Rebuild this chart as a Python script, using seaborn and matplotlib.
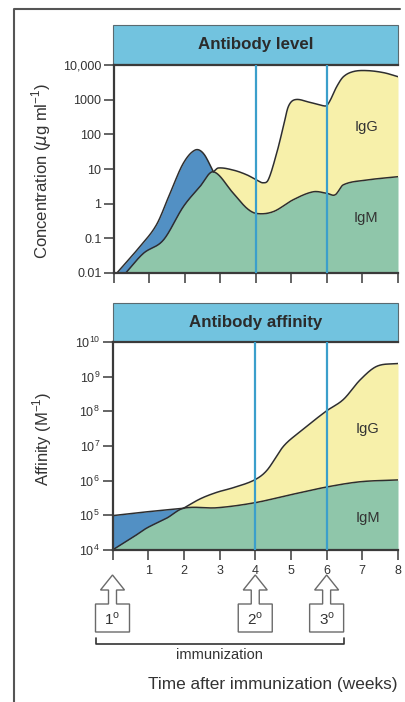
import numpy as np
import matplotlib
matplotlib.use("Agg")
import matplotlib.pyplot as plt
import seaborn as sns
from matplotlib.patches import Rectangle, Polygon
from matplotlib.lines import Line2D
from matplotlib.transforms import blended_transform_factory

# ---- Antibody level (concentration, ug/ml) ----
level_igm_weeks = [0.33, 0.83, 1.39, 1.95, 2.42, 2.80, 3.36, 3.74, 4.02, 4.49,
                   5.05, 5.61, 5.99, 6.23, 6.46, 7.12, 8.00]
level_igm = [0.01, 0.037, 0.089, 0.81, 3.1, 8.3, 2.0, 0.74, 0.52, 0.59,
             1.3, 2.2, 2.0, 1.8, 3.5, 4.8, 6.0]
level_early_weeks = [0.08, 0.73, 1.20, 1.58, 1.95, 2.28, 2.52, 2.80]
level_early = [0.01, 0.058, 0.25, 2.0, 14.5, 35.0, 28.0, 8.3]
level_igg_weeks = [2.80, 2.94, 3.36, 3.74, 4.02, 4.20, 4.35, 4.58, 4.77, 4.91,
                   5.10, 5.49, 5.92, 6.00, 6.10, 6.27, 6.46, 6.74, 7.12, 7.60, 8.00]
level_igg = [8.3, 10.7, 9.3, 6.8, 4.8, 4.0, 5.0, 28, 166, 630,
             1000, 850, 660, 690, 1000, 2340, 4570, 6460, 6900, 6000, 4600]

# ---- Antibody affinity (M^-1) ----
aff_igm_weeks = [0.00, 0.59, 0.96, 1.52, 1.99, 2.92, 3.98, 4.98, 5.98, 6.94, 8.00]
aff_igm = [1e4, 2.4e4, 4.3e4, 8.3e4, 1.6e5, 1.65e5, 2.3e5, 3.9e5, 6.5e5, 9.3e5, 1.05e6]
aff_early_weeks = [0.00, 0.59, 1.24, 1.99]
aff_early = [9.8e4, 1.15e5, 1.35e5, 1.6e5]
aff_igg_weeks = [1.99, 2.46, 2.92, 3.39, 3.98, 4.33, 4.79, 5.26, 5.98, 6.47,
                 6.94, 7.41, 8.00]
aff_igg = [1.6e5, 3.0e5, 4.6e5, 6.3e5, 1.05e6, 2.0e6, 9.8e6, 2.6e7, 1e8, 2.2e8,
           8.1e8, 2.0e9, 2.4e9]

# ---- axes annotations ----
level_ticks = [0.01, 0.1, 1, 10, 100, 1000, 10000]
level_tick_labels = ["0.01", "0.1", "1", "10", "100", "1000", "10,000"]
aff_ticks = [1e4, 1e5, 1e6, 1e7, 1e8, 1e9, 1e10]
aff_tick_labels = [r"10$^{%d}$" % k for k in range(4, 11)]
week_ticks = list(range(0, 9))
week_tick_labels = [""] + [str(k) for k in range(1, 9)]
boost_weeks = [4, 6]
immunization_weeks = [0, 4, 6]
immunization_labels = [r"1$^{\rm o}$", r"2$^{\rm o}$", r"3$^{\rm o}$"]

BLUE = "#5290c4"
GREEN = "#8fc6aa"
YELLOW = "#f7f0aa"
BAR = "#72c3df"
VLINE = "#3b9fcb"
INK = "#333333"

sns.set_theme(style="white")
plt.rcParams["font.family"] = ["Liberation Sans", "DejaVu Sans"]
plt.rcParams["mathtext.fontset"] = "custom"
plt.rcParams["mathtext.rm"] = "Liberation Sans"


def spline(xk, yk, xs):
    """Cubic Hermite (Catmull-Rom style tangents) through (xk, yk)."""
    xk = np.asarray(xk, float)
    yk = np.asarray(yk, float)
    h = np.diff(xk)
    m = np.empty_like(yk)
    m[1:-1] = (yk[2:] - yk[:-2]) / (xk[2:] - xk[:-2])
    m[0] = (yk[1] - yk[0]) / h[0]
    m[-1] = (yk[-1] - yk[-2]) / h[-1]
    idx = np.clip(np.searchsorted(xk, xs) - 1, 0, len(xk) - 2)
    t = (xs - xk[idx]) / h[idx]
    h00 = 2 * t**3 - 3 * t**2 + 1
    h10 = t**3 - 2 * t**2 + t
    h01 = -2 * t**3 + 3 * t**2
    h11 = t**3 - t**2
    return (h00 * yk[idx] + h10 * h[idx] * m[idx] + h01 * yk[idx + 1]
            + h11 * h[idx] * m[idx + 1])


def curve(weeks, vals, xs, floor):
    """Smooth curve in log space; below the first week it sits on the floor."""
    ly = spline(weeks, np.log10(vals), np.clip(xs, weeks[0], weeks[-1]))
    out = np.maximum(10 ** ly, floor)
    out[xs < weeks[0]] = floor
    return out


def draw_panel(ax, igm_w, igm, early_w, early, igg_w, igg, floor):
    xs_m = np.linspace(igm_w[0], 8, 600)
    ym = curve(igm_w, igm, xs_m, floor)
    ax.fill_between(xs_m, floor, ym, color=GREEN, lw=0, zorder=1)

    xs_e = np.linspace(early_w[0], early_w[-1], 300)
    ye = curve(early_w, early, xs_e, floor)
    ye_low = curve(igm_w, igm, xs_e, floor)
    ax.fill_between(xs_e, ye_low, ye, color=BLUE, lw=0, zorder=1)

    xs_g = np.linspace(igg_w[0], igg_w[-1], 600)
    yg = curve(igg_w, igg, xs_g, floor)
    yg_low = curve(igm_w, igm, xs_g, floor)
    ax.fill_between(xs_g, yg_low, yg, color=YELLOW, lw=0, zorder=1)

    for xs, ys in ((xs_m, ym), (xs_e, ye), (xs_g, yg)):
        sns.lineplot(x=xs, y=ys, ax=ax, color="#2e2e2e", lw=1.1, zorder=2,
                     sort=False, estimator=None)

    for w in boost_weeks:
        ax.axvline(w, color=VLINE, lw=1.6, zorder=3)


W, H = 406, 702
fig = plt.figure(figsize=(W / 100, H / 100), dpi=100)


def fx(px):
    return px / W


def fy(py):
    return 1 - py / H


def add_bar(x0, x1, y0, y1, title):
    fig.add_artist(Rectangle((fx(x0), fy(y1)), fx(x1) - fx(x0), fy(y0) - fy(y1),
                             transform=fig.transFigure, fc=BAR, ec="#5a6a70",
                             lw=0.8, zorder=0))
    fig.text(fx((x0 + x1) / 2), fy((y0 + y1) / 2), title, ha="center",
             va="center", fontsize=12.2, fontweight="bold", color="#2b2b2b")


ax1 = fig.add_axes([fx(114), fy(273), fx(398) - fx(114), fy(65) - fy(273)])
ax2 = fig.add_axes([fx(112.5), fy(550), fx(398) - fx(112.5), fy(342) - fy(550)])

draw_panel(ax1, level_igm_weeks, level_igm, level_early_weeks, level_early,
           level_igg_weeks, level_igg, 0.01)
draw_panel(ax2, aff_igm_weeks, aff_igm, aff_early_weeks, aff_early,
           aff_igg_weeks, aff_igg, 1e4)

for ax, ticks, labels, lo, hi in ((ax1, level_ticks, level_tick_labels, 0.01, 1e4),
                                  (ax2, aff_ticks, aff_tick_labels, 1e4, 1e10)):
    ax.set_yscale("log")
    ax.set_ylim(lo, hi)
    ax.set_xlim(0, 8)
    ax.set_yticks(ticks)
    ax.set_yticklabels(labels)
    ax.yaxis.set_minor_locator(matplotlib.ticker.NullLocator())
    ax.set_xticks(week_ticks)
    ax.set_facecolor("white")
    ax.set_xlabel("")
    ax.set_ylabel("")
    for side in ("left", "bottom", "top"):
        ax.spines[side].set_visible(True)
        ax.spines[side].set_color("#3a3a3a")
        ax.spines[side].set_linewidth(1.6)
    ax.spines["right"].set_visible(False)
    ax.tick_params(axis="both", direction="out", length=7, width=1.1,
                   color="#3a3a3a", labelsize=9, labelcolor=INK, pad=2,
                   left=True, bottom=True)

ax1.set_xticklabels([])
ax2.set_xticklabels(week_tick_labels)
ax2.tick_params(axis="x", pad=4)

# panel captions
ax1.text(7.1, 160, "IgG", ha="center", va="center", fontsize=10.5, color=INK, zorder=4)
ax1.text(7.1, 0.39, "IgM", ha="center", va="center", fontsize=10.5, color=INK, zorder=4)
ax2.text(7.15, 3e7, "IgG", ha="center", va="center", fontsize=10.5, color=INK, zorder=4)
ax2.text(7.15, 8.4e4, "IgM", ha="center", va="center", fontsize=10.5, color=INK, zorder=4)

add_bar(113, 398, 25, 64, "Antibody level")
add_bar(113, 398, 303, 342, "Antibody affinity")

fig.text(fx(42), fy(171), r"Concentration ($\mu$g ml$^{-1}$)", rotation=90,
         ha="center", va="center", fontsize=12, color=INK)
fig.text(fx(42), fy(439), r"Affinity (M$^{-1}$)", rotation=90,
         ha="center", va="center", fontsize=12, color=INK)

# outer frame
fig.add_artist(Line2D([fx(14), fx(14), fx(400)], [fy(702), fy(9), fy(9)],
                      transform=fig.transFigure, color="#555555", lw=1.5))

# immunization arrows under the time axis
tr = blended_transform_factory(ax2.transData, fig.transFigure)
ppu = (398 - 112.5) / 8.0
box_hw, stem_hw, head_hw = 17 / ppu, 4 / ppu, 12 / ppu
for w, lab in zip(immunization_weeks, immunization_labels):
    pts = [(w - box_hw, fy(632)), (w + box_hw, fy(632)), (w + box_hw, fy(604)),
           (w + stem_hw, fy(604)), (w + stem_hw, fy(590)), (w + head_hw, fy(590)),
           (w, fy(575)), (w - head_hw, fy(590)), (w - stem_hw, fy(590)),
           (w - stem_hw, fy(604)), (w - box_hw, fy(604))]
    fig.add_artist(Polygon(pts, closed=True, transform=tr, fc="white",
                           ec="#6a6a6a", lw=1.0, clip_on=False))
    fig.text(0, fy(619), lab, transform=tr, ha="center", va="center",
             fontsize=11, color=INK).set_x(w)

# bracket spanning the immunizations
bx0 = immunization_weeks[0] - box_hw
bx1 = immunization_weeks[-1] + box_hw
fig.add_artist(Line2D([bx0, bx0, bx1, bx1], [fy(638), fy(644), fy(644), fy(638)],
                      transform=tr, color="#333333", lw=1.2))
fig.text(0, fy(655), "immunization", transform=tr, ha="center", va="center",
         fontsize=10.5, color=INK).set_x((bx0 + bx1) / 2)

fig.text(fx(398), fy(684), "Time after immunization (weeks)", ha="right",
         va="center", fontsize=12.4, color=INK)

fig.savefig("out.png", dpi=100, facecolor="white")
